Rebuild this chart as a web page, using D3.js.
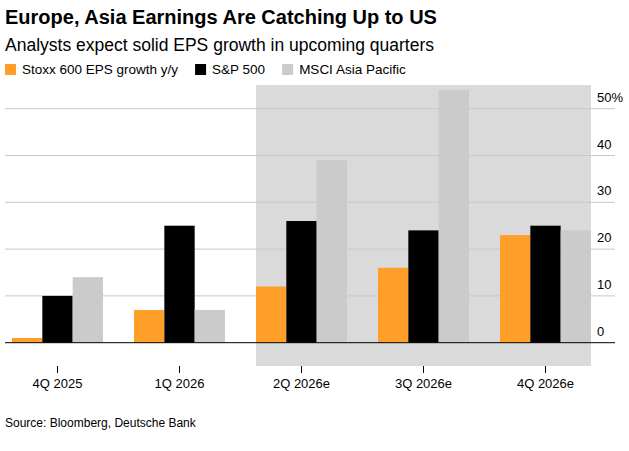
<!DOCTYPE html>
<html><head><meta charset="utf-8">
<script src="https://cdn.jsdelivr.net/npm/d3@7"></script>
<style>body{margin:0;background:#fff;font-family:"Liberation Sans",Arial,sans-serif}</style>
</head><body><svg id="c" width="629" height="451"></svg>
<script>
const quarters = ['4Q 2025', '1Q 2026', '2Q 2026e', '3Q 2026e', '4Q 2026e'];
const stoxx = [1, 7, 12, 16, 23];
const sp500 = [10, 25, 26, 24, 25];
const msci = [14, 7, 39, 54, 24];
const seriesNames = ['Stoxx 600 EPS growth y/y', 'S&P 500', 'MSCI Asia Pacific'];
const colors = ['#ff9f2a', '#000000', '#cbcbcb'];
const yTicks = [0, 10, 20, 30, 40, 50];
const shaded = ['2Q 2026e', '3Q 2026e', '4Q 2026e'];

const svg = d3.select('#c');
const x = d3.scaleBand().domain(quarters).range([-3.5, 606.5]).paddingInner(0.254).paddingOuter(0.127);
const sub = d3.scaleBand().domain([0, 1, 2]).range([0, x.bandwidth()]);
const y = d3.scaleLinear().domain([0, 50]).range([342.7, 108.7]);

// shaded estimates area
const sx0 = x(shaded[0]) , sx1 = x(shaded[shaded.length - 1]) + x.bandwidth();
svg.append('rect').attr('x', sx0).attr('y', 85).attr('width', sx1 - sx0).attr('height', 281).attr('fill', '#dadada');

// grid
svg.selectAll('.grid').data(yTicks.slice(1)).join('line')
	.attr('x1', 5).attr('x2', 615).attr('y1', d => y(d)).attr('y2', d => y(d))
	.attr('stroke', '#c8c8c8').attr('stroke-width', 1);

const data = [stoxx, sp500, msci];
quarters.forEach((q, i) => {
	data.forEach((s, j) => {
		svg.append('rect').attr('x', x(q) + sub(j)).attr('width', sub.bandwidth())
			.attr('y', y(s[i])).attr('height', y(0) - y(s[i])).attr('fill', colors[j]);
	});
});
svg.append('line').attr('x1', 5).attr('x2', 615).attr('y1', y(0)).attr('y2', y(0)).attr('stroke', '#000');

svg.selectAll('.yl').data(yTicks).join('text')
	.attr('x', 597).attr('y', d => y(d) - 7).attr('font-size', 13).attr('fill', '#000')
	.text(d => d === 50 ? '50%' : d);

// x ticks
quarters.forEach(q => {
	const cx = x(q) + x.bandwidth() / 2;
	svg.append('line').attr('x1', cx).attr('x2', cx).attr('y1', 366).attr('y2', 373).attr('stroke', '#000');
	svg.append('text').attr('x', cx).attr('y', 388).attr('text-anchor', 'middle').attr('font-size', 13).text(q);
});

svg.append('text').attr('x', 5).attr('y', 24).attr('font-size', 20).attr('font-weight', 'bold').text('Europe, Asia Earnings Are Catching Up to US');
svg.append('text').attr('x', 5).attr('y', 51).attr('font-size', 17.5).text('Analysts expect solid EPS growth in upcoming quarters');

let lx = 5;
seriesNames.forEach((n, j) => {
	svg.append('rect').attr('x', lx).attr('y', 64).attr('width', 11).attr('height', 11).attr('fill', colors[j]);
	const t = svg.append('text').attr('x', lx + 17).attr('y', 74).attr('font-size', 13.5).text(n);
	lx += 17 + t.node().getComputedTextLength() + 17;
});

svg.append('text').attr('x', 5).attr('y', 427).attr('font-size', 12).text('Source: Bloomberg, Deutsche Bank');
</script></body></html>
